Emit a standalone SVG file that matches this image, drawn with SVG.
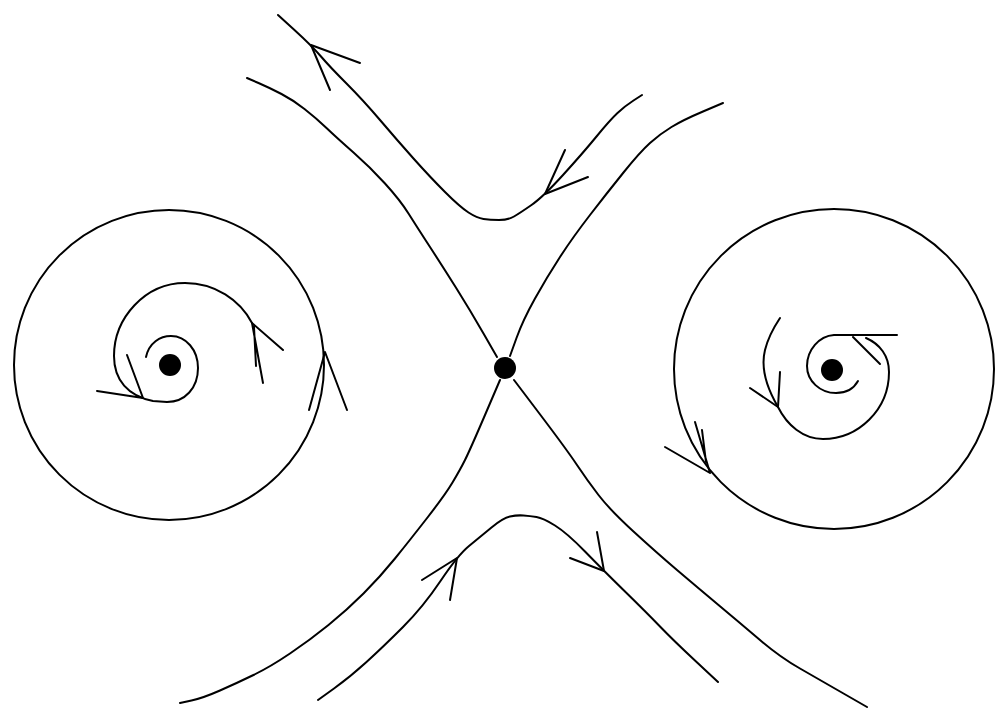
<svg xmlns="http://www.w3.org/2000/svg" width="998" height="727" viewBox="0 0 998 727">
<style>
.c{fill:none;stroke:#000;stroke-width:2;stroke-linecap:round;stroke-linejoin:round}
.d{fill:#000}
</style>
<rect width="998" height="727" fill="#fff"/>
<g id="left-center">
<circle class="c" cx="169" cy="365" r="155"/>
<circle class="d" cx="170" cy="365" r="11"/>
<path class="c" d="M146,357 C149,343 160,336 171,336 C186,336 198,350 198,368 C198,388 185,402 167,402 L153,401 C128,396 114,380 114,356 C114,318 145,283 185,283 C215,283 240,300 252,323"/>
<path class="c" d="M97,391 L143,398 L127,355"/>
<path class="c" d="M283,350 L252,323 L263,383 M254,327 L256,366"/>
<path class="c" d="M347,410 L325,352 L309,410"/>
</g>
<g id="right-center">
<circle class="c" cx="834" cy="369" r="160"/>
<circle class="d" cx="832" cy="370" r="11"/>
<path class="c" d="M858,381 C853,390 845,393 836,393 C820,393 807,381 807,366 C807,350 819,336 834,335 L897,335"/>
<path class="c" d="M866,338 C880,344 889,356 889,372 C889,410 858,439 823,439 C803,439 787,425 778,407 C768,390 760,370 765,350 C768,338 774,327 780,318"/>
<path class="c" d="M853,337 L880,364"/>
<path class="c" d="M750,388 L778,407 L780,372"/>
<path class="c" d="M665,447 L710,473 L695,422 M706,462 L702,430"/>
</g>
<g id="saddle">
<circle class="d" cx="505" cy="368" r="11"/>
</g>
<g id="connectors">
<path class="c" d="M247,78 L258.5,83 Q270,88 281.5,94 Q293,100 304.5,109 Q316,118 326.5,128 Q337,138 353.5,152.5 Q370,167 385,183.5 Q400,200 408.5,213.5 Q417,227 430,247 Q443,267 456.5,288.5 Q470,310 483.5,333.5 L497,357"/>
<path class="c" d="M500,380 L485,415 Q470,450 465,460 Q460,470 452.5,482.5 Q445,495 427.5,517.5 Q410,540 395,558.5 Q380,577 363.5,593.5 Q347,610 328.5,625 Q310,640 290,653.5 Q270,667 253.5,675 Q237,683 220,690.5 Q203,698 191.5,700.5 L180,703"/>
<path class="c" d="M510,356 L516.5,338 Q523,320 535,298.5 Q547,277 560,257 Q573,237 590,215 Q607,193 623.5,172.5 Q640,152 650,143 Q660,134 671.5,127 Q683,120 703,111.5 L723,103"/>
<path class="c" d="M514,380 L540.5,415 Q567,450 577,465 Q587,480 598.5,495 Q610,510 633.5,531.5 Q657,553 677,570 Q697,587 718.5,605 Q740,623 760,640 Q780,657 800,668.5 Q820,680 843.5,693.5 L867,707"/>
<path class="c" d="M278,15 L295,30.5 Q312,46 321,56.5 Q330,67 346.5,83.5 Q363,100 380,120 Q397,140 413.5,158.5 Q430,177 445,192 Q460,207 468.5,212.5 Q477,218 483.5,219 Q490,220 499,220 Q508,220 514,216.5 Q520,213 531.5,205 Q543,197 563,175 Q583,153 596.5,136.5 Q610,120 617.5,113 Q625,106 633.5,100.5 L642,95"/>
<path class="c" d="M360,63 L311,45 L330,90"/>
<path class="c" d="M565,150 L545,194 L588,177"/>
<path class="c" d="M318,700 L334,688.5 Q350,677 366.5,662 Q383,647 403,627 Q423,607 440.5,581 Q458,555 469,546 Q480,537 491.5,527.5 Q503,518 510,516.5 Q517,515 523.5,515.5 Q530,516 536.5,517 Q543,518 555,525.5 Q567,533 585,551.5 Q603,570 625,591.5 Q647,613 660,626.5 Q673,640 695.5,661 L718,682"/>
<path class="c" d="M422,580 L457,558 L450,600"/>
<path class="c" d="M597,532 L604,571 L570,558"/>
</g>
</svg>
